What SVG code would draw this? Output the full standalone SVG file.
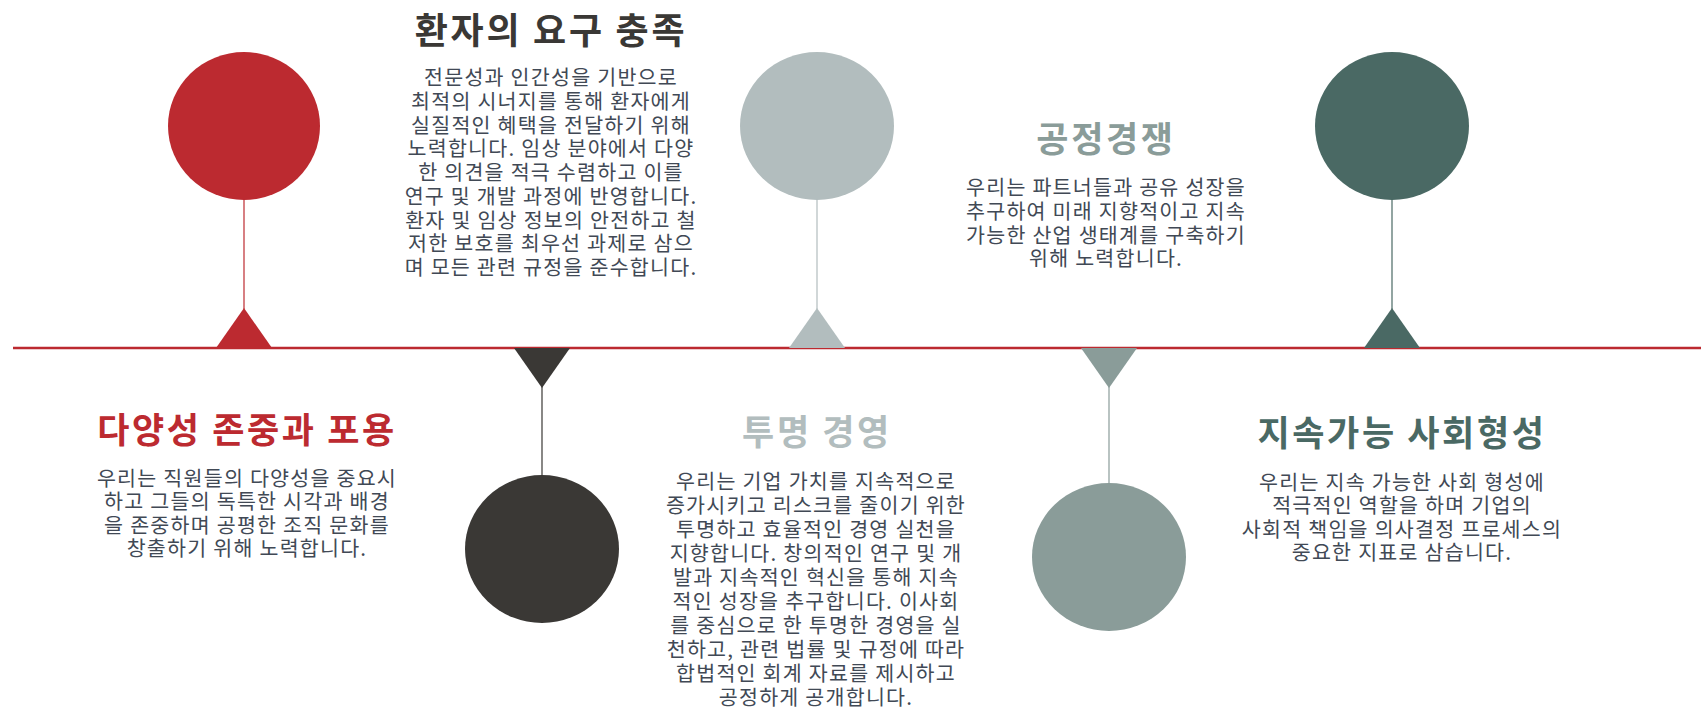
<svg xmlns="http://www.w3.org/2000/svg" width="1701" height="709" viewBox="0 0 1701 709">
<style>
.t{font-family:"Noto Sans CJK KR","Noto Sans",sans-serif;font-weight:700;text-anchor:middle;letter-spacing:0.075em}
.b{font-family:"Noto Sans CJK KR","Noto Sans",sans-serif;font-weight:400;font-size:20.6px;fill:#414955;text-anchor:middle;letter-spacing:0.06em}
.stem{stroke-width:1.2;fill:none}
</style>
<rect width="1701" height="709" fill="#ffffff"/>
<g id="connectors">
<line x1="13" y1="348" x2="1701" y2="348" stroke="#BC2A30" stroke-width="2.5"/>
</g>
<g id="node1">
<ellipse cx="244" cy="126" rx="76" ry="74" fill="#BC2A30"/>
<line class="stem" x1="244" y1="200" x2="244" y2="309" stroke="#BC2A30"/>
<polygon points="244,308 216,348 272,348" fill="#BC2A30"/>
<text class="t" x="247" y="442.5" font-size="35" fill="#BC2A30">다양성 존중과 포용</text>
<text class="b" x="247" y="485.5">우리는 직원들의 다양성을 중요시<tspan x="247" dy="23.6">하고 그들의 독특한 시각과 배경</tspan><tspan x="247" dy="23.6">을 존중하며 공평한 조직 문화를</tspan><tspan x="247" dy="23.6">창출하기 위해 노력합니다.</tspan></text>
</g>
<g id="node2">
<ellipse cx="542" cy="549" rx="77" ry="74" fill="#3A3835"/>
<line class="stem" x1="542" y1="386" x2="542" y2="476" stroke="#3A3835"/>
<polygon points="514,348 570,348 542,388" fill="#3A3835"/>
<text class="t" x="551" y="43.5" font-size="36" fill="#3A3835">환자의 요구 충족</text>
<text class="b" x="551" y="85">전문성과 인간성을 기반으로<tspan x="551" dy="23.75">최적의 시너지를 통해 환자에게</tspan><tspan x="551" dy="23.75">실질적인 혜택을 전달하기 위해</tspan><tspan x="551" dy="23.75">노력합니다. 임상 분야에서 다양</tspan><tspan x="551" dy="23.75">한 의견을 적극 수렴하고 이를</tspan><tspan x="551" dy="23.75">연구 및 개발 과정에 반영합니다.</tspan><tspan x="551" dy="23.75">환자 및 임상 정보의 안전하고 철</tspan><tspan x="551" dy="23.75">저한 보호를 최우선 과제로 삼으</tspan><tspan x="551" dy="23.75">며 모든 관련 규정을 준수합니다.</tspan></text>
</g>
<g id="node3">
<ellipse cx="817" cy="126" rx="77" ry="74" fill="#B2BDBE"/>
<line class="stem" x1="817" y1="200" x2="817" y2="309" stroke="#B2BDBE"/>
<polygon points="817,308 789,348 845,348" fill="#B2BDBE"/>
<text class="t" x="817" y="445" font-size="35" fill="#B2BDBE">투명 경영</text>
<text class="b" x="816" y="488.5">우리는 기업 가치를 지속적으로<tspan x="816" dy="24">증가시키고 리스크를 줄이기 위한</tspan><tspan x="816" dy="24">투명하고 효율적인 경영 실천을</tspan><tspan x="816" dy="24">지향합니다. 창의적인 연구 및 개</tspan><tspan x="816" dy="24">발과 지속적인 혁신을 통해 지속</tspan><tspan x="816" dy="24">적인 성장을 추구합니다. 이사회</tspan><tspan x="816" dy="24">를 중심으로 한 투명한 경영을 실</tspan><tspan x="816" dy="24">천하고, 관련 법률 및 규정에 따라</tspan><tspan x="816" dy="24">합법적인 회계 자료를 제시하고</tspan><tspan x="816" dy="24">공정하게 공개합니다.</tspan></text>
</g>
<g id="node4">
<ellipse cx="1109" cy="557" rx="77" ry="74" fill="#8A9C99"/>
<line class="stem" x1="1109" y1="386" x2="1109" y2="484" stroke="#8A9C99"/>
<polygon points="1081,348 1137,348 1109,388" fill="#8A9C99"/>
<text class="t" x="1106" y="151.5" font-size="35" fill="#8A9C99">공정경쟁</text>
<text class="b" x="1106" y="195">우리는 파트너들과 공유 성장을<tspan x="1106" dy="23.8">추구하여 미래 지향적이고 지속</tspan><tspan x="1106" dy="23.8">가능한 산업 생태계를 구축하기</tspan><tspan x="1106" dy="23.8">위해 노력합니다.</tspan></text>
</g>
<g id="node5">
<ellipse cx="1392" cy="126" rx="77" ry="74" fill="#4A6964"/>
<line class="stem" x1="1392" y1="200" x2="1392" y2="309" stroke="#4A6964"/>
<polygon points="1392,308 1364,348 1420,348" fill="#4A6964"/>
<text class="t" x="1402" y="445.5" font-size="35" fill="#4A6964">지속가능 사회형성</text>
<text class="b" x="1402" y="489.5">우리는 지속 가능한 사회 형성에<tspan x="1402" dy="23.6">적극적인 역할을 하며 기업의</tspan><tspan x="1402" dy="23.6">사회적 책임을 의사결정 프로세스의</tspan><tspan x="1402" dy="23.6">중요한 지표로 삼습니다.</tspan></text>
</g>
</svg>
